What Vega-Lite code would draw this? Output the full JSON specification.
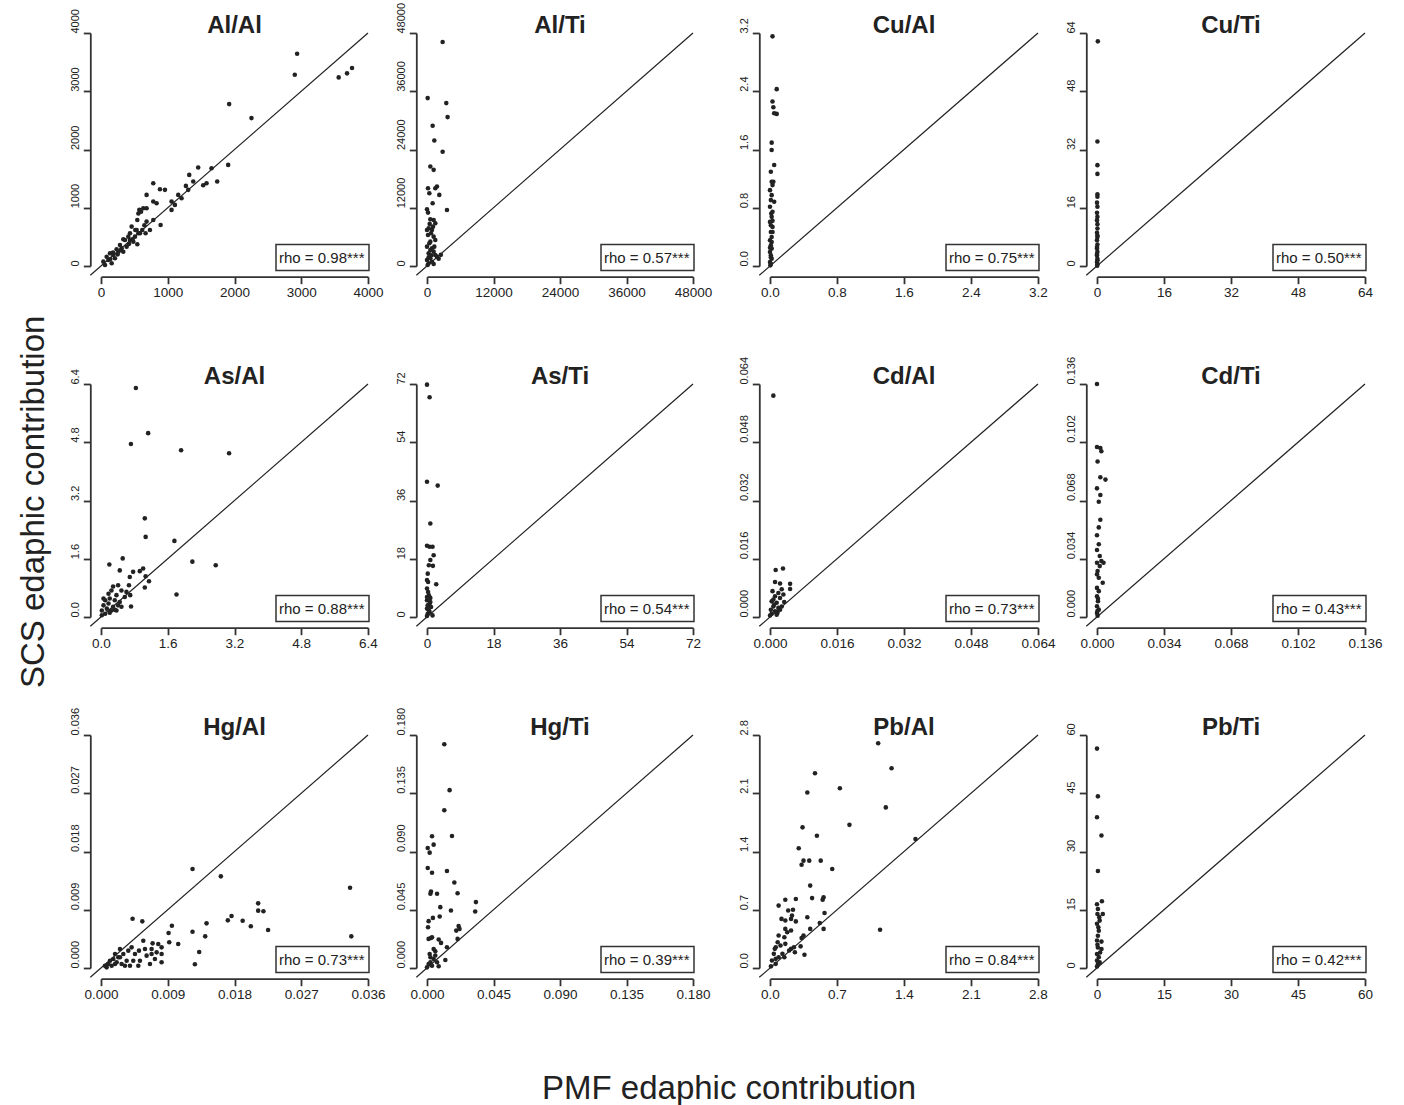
{
"$schema": "https://vega.github.io/schema/vega-lite/v6.json",
"background": "white",
"padding": {"left": 18, "top": 2, "right": 5, "bottom": 3},
"datasets": {
"meta": [
{"p":"Al/Al","rho":"rho = 0.98***"},
{"p":"Al/Ti","rho":"rho = 0.57***"},
{"p":"Cu/Al","rho":"rho = 0.75***"},
{"p":"Cu/Ti","rho":"rho = 0.50***"},
{"p":"As/Al","rho":"rho = 0.88***"},
{"p":"As/Ti","rho":"rho = 0.54***"},
{"p":"Cd/Al","rho":"rho = 0.73***"},
{"p":"Cd/Ti","rho":"rho = 0.43***"},
{"p":"Hg/Al","rho":"rho = 0.73***"},
{"p":"Hg/Ti","rho":"rho = 0.39***"},
{"p":"Pb/Al","rho":"rho = 0.84***"},
{"p":"Pb/Ti","rho":"rho = 0.42***"}
],
"pts": [
{"p":"Al/Al","x":2938,"y":3645},{"p":"Al/Al","x":2903,"y":3284},{"p":"Al/Al","x":3561,"y":3238},{"p":"Al/Al","x":3686,"y":3307},{"p":"Al/Al","x":3761,"y":3398},
{"p":"Al/Al","x":1920,"y":2779},{"p":"Al/Al","x":2254,"y":2539},{"p":"Al/Al","x":1905,"y":1736},{"p":"Al/Al","x":1456,"y":1691},{"p":"Al/Al","x":1656,"y":1679},
{"p":"Al/Al","x":1322,"y":1564},{"p":"Al/Al","x":1382,"y":1450},{"p":"Al/Al","x":1741,"y":1450},{"p":"Al/Al","x":1581,"y":1421},{"p":"Al/Al","x":1531,"y":1387},
{"p":"Al/Al","x":1272,"y":1375},{"p":"Al/Al","x":1157,"y":1221},{"p":"Al/Al","x":1207,"y":1163},{"p":"Al/Al","x":1307,"y":1307},{"p":"Al/Al","x":1057,"y":1106},
{"p":"Al/Al","x":1107,"y":1049},{"p":"Al/Al","x":1057,"y":963},{"p":"Al/Al","x":783,"y":1421},{"p":"Al/Al","x":958,"y":1307},{"p":"Al/Al","x":883,"y":1318},
{"p":"Al/Al","x":683,"y":1221},{"p":"Al/Al","x":783,"y":1106},{"p":"Al/Al","x":833,"y":1077},{"p":"Al/Al","x":574,"y":963},{"p":"Al/Al","x":633,"y":991},
{"p":"Al/Al","x":683,"y":991},{"p":"Al/Al","x":893,"y":705},{"p":"Al/Al","x":783,"y":791},{"p":"Al/Al","x":683,"y":762},{"p":"Al/Al","x":544,"y":791},
{"p":"Al/Al","x":618,"y":619},{"p":"Al/Al","x":668,"y":562},{"p":"Al/Al","x":559,"y":562},{"p":"Al/Al","x":544,"y":372},{"p":"Al/Al","x":514,"y":619},
{"p":"Al/Al","x":459,"y":676},{"p":"Al/Al","x":434,"y":562},{"p":"Al/Al","x":359,"y":447},{"p":"Al/Al","x":334,"y":458},{"p":"Al/Al","x":409,"y":504},
{"p":"Al/Al","x":309,"y":304},{"p":"Al/Al","x":234,"y":287},{"p":"Al/Al","x":184,"y":189},{"p":"Al/Al","x":135,"y":218},{"p":"Al/Al","x":85,"y":160},
{"p":"Al/Al","x":35,"y":75},{"p":"Al/Al","x":284,"y":361},{"p":"Al/Al","x":259,"y":246},{"p":"Al/Al","x":384,"y":332},{"p":"Al/Al","x":484,"y":418},
{"p":"Al/Al","x":209,"y":132},{"p":"Al/Al","x":110,"y":103},{"p":"Al/Al","x":160,"y":46},{"p":"Al/Al","x":60,"y":17},{"p":"Al/Al","x":434,"y":447},
{"p":"Al/Al","x":509,"y":504},{"p":"Al/Al","x":584,"y":562},{"p":"Al/Al","x":733,"y":619},{"p":"Al/Al","x":334,"y":246},{"p":"Al/Al","x":534,"y":619},
{"p":"Al/Al","x":250,"y":200},{"p":"Al/Al","x":300,"y":270},{"p":"Al/Al","x":180,"y":230},{"p":"Al/Al","x":140,"y":120},{"p":"Al/Al","x":420,"y":380},
{"p":"Al/Al","x":470,"y":460},{"p":"Al/Al","x":650,"y":700},{"p":"Al/Al","x":600,"y":930},{"p":"Al/Al","x":560,"y":900},

{"p":"Al/Ti","x":2820,"y":46145},{"p":"Al/Ti","x":120,"y":34590},{"p":"Al/Ti","x":3480,"y":33560},{"p":"Al/Ti","x":3720,"y":30670},{"p":"Al/Ti","x":1020,"y":28880},
{"p":"Al/Ti","x":1320,"y":25860},{"p":"Al/Ti","x":2820,"y":23520},{"p":"Al/Ti","x":600,"y":20490},{"p":"Al/Ti","x":1200,"y":19810},{"p":"Al/Ti","x":180,"y":16020},
{"p":"Al/Ti","x":1800,"y":16370},{"p":"Al/Ti","x":1500,"y":16020},{"p":"Al/Ti","x":420,"y":14990},{"p":"Al/Ti","x":2220,"y":14650},{"p":"Al/Ti","x":1020,"y":12930},
{"p":"Al/Ti","x":3600,"y":11550},{"p":"Al/Ti","x":0,"y":11690},{"p":"Al/Ti","x":180,"y":11000},{"p":"Al/Ti","x":600,"y":9630},{"p":"Al/Ti","x":1200,"y":9490},
{"p":"Al/Ti","x":480,"y":8670},{"p":"Al/Ti","x":1500,"y":8800},{"p":"Al/Ti","x":300,"y":7770},{"p":"Al/Ti","x":900,"y":7430},{"p":"Al/Ti","x":1200,"y":6050},
{"p":"Al/Ti","x":180,"y":6400},{"p":"Al/Ti","x":600,"y":5020},{"p":"Al/Ti","x":1500,"y":5360},{"p":"Al/Ti","x":0,"y":3990},{"p":"Al/Ti","x":900,"y":3650},
{"p":"Al/Ti","x":1200,"y":2960},{"p":"Al/Ti","x":300,"y":2610},{"p":"Al/Ti","x":1500,"y":2270},{"p":"Al/Ti","x":1800,"y":1930},{"p":"Al/Ti","x":600,"y":1580},
{"p":"Al/Ti","x":0,"y":1240},{"p":"Al/Ti","x":900,"y":890},{"p":"Al/Ti","x":300,"y":550},{"p":"Al/Ti","x":1200,"y":410},{"p":"Al/Ti","x":120,"y":210},
{"p":"Al/Ti","x":600,"y":3300},{"p":"Al/Ti","x":420,"y":4680},{"p":"Al/Ti","x":720,"y":6740},{"p":"Al/Ti","x":1080,"y":8110},{"p":"Al/Ti","x":0,"y":7430},
{"p":"Al/Ti","x":1320,"y":3990},{"p":"Al/Ti","x":2100,"y":1500},{"p":"Al/Ti","x":2500,"y":2300},{"p":"Al/Ti","x":300,"y":1800},{"p":"Al/Ti","x":800,"y":2200},

{"p":"Cu/Al","x":0.03,"y":3.154},{"p":"Cu/Al","x":0.08,"y":2.429},{"p":"Cu/Al","x":0.03,"y":2.259},{"p":"Cu/Al","x":0.04,"y":2.181},{"p":"Cu/Al","x":0.05,"y":2.098},
{"p":"Cu/Al","x":0.08,"y":2.089},{"p":"Cu/Al","x":0.02,"y":1.694},{"p":"Cu/Al","x":0.02,"y":1.593},{"p":"Cu/Al","x":0.05,"y":1.387},{"p":"Cu/Al","x":0.01,"y":1.295},
{"p":"Cu/Al","x":0.02,"y":1.157},{"p":"Cu/Al","x":0.03,"y":1.111},{"p":"Cu/Al","x":0.0,"y":1.042},{"p":"Cu/Al","x":0.02,"y":0.973},{"p":"Cu/Al","x":0.01,"y":0.905},
{"p":"Cu/Al","x":0.05,"y":0.882},{"p":"Cu/Al","x":0.0,"y":0.813},{"p":"Cu/Al","x":0.03,"y":0.744},{"p":"Cu/Al","x":0.02,"y":0.675},{"p":"Cu/Al","x":0.0,"y":0.606},
{"p":"Cu/Al","x":0.03,"y":0.537},{"p":"Cu/Al","x":0.01,"y":0.468},{"p":"Cu/Al","x":0.02,"y":0.399},{"p":"Cu/Al","x":0.0,"y":0.354},{"p":"Cu/Al","x":0.01,"y":0.285},
{"p":"Cu/Al","x":0.02,"y":0.239},{"p":"Cu/Al","x":0.0,"y":0.193},{"p":"Cu/Al","x":0.01,"y":0.147},{"p":"Cu/Al","x":0.02,"y":0.101},{"p":"Cu/Al","x":0.0,"y":0.055},
{"p":"Cu/Al","x":0.01,"y":0.032},{"p":"Cu/Al","x":0.004,"y":0.009},{"p":"Cu/Al","x":0.03,"y":0.468},{"p":"Cu/Al","x":0.015,"y":0.72},{"p":"Cu/Al","x":0.04,"y":1.157},
{"p":"Cu/Al","x":0.01,"y":0.56},{"p":"Cu/Al","x":0.02,"y":0.33},{"p":"Cu/Al","x":0.0,"y":0.25},{"p":"Cu/Al","x":0.01,"y":0.12},{"p":"Cu/Al","x":0.03,"y":0.62},

{"p":"Cu/Ti","x":0.2,"y":61.7},{"p":"Cu/Ti","x":0.1,"y":34.2},{"p":"Cu/Ti","x":0.1,"y":27.7},{"p":"Cu/Ti","x":0.1,"y":25.3},{"p":"Cu/Ti","x":0.1,"y":19.7},
{"p":"Cu/Ti","x":0.1,"y":19.0},{"p":"Cu/Ti","x":0.0,"y":17.4},{"p":"Cu/Ti","x":0.1,"y":16.3},{"p":"Cu/Ti","x":0.0,"y":14.6},{"p":"Cu/Ti","x":0.1,"y":13.5},
{"p":"Cu/Ti","x":0.0,"y":12.6},{"p":"Cu/Ti","x":0.1,"y":11.5},{"p":"Cu/Ti","x":0.1,"y":10.3},{"p":"Cu/Ti","x":0.0,"y":9.1},{"p":"Cu/Ti","x":0.1,"y":8.0},
{"p":"Cu/Ti","x":0.0,"y":7.1},{"p":"Cu/Ti","x":0.1,"y":5.9},{"p":"Cu/Ti","x":0.0,"y":4.8},{"p":"Cu/Ti","x":0.1,"y":3.9},{"p":"Cu/Ti","x":0.0,"y":2.9},
{"p":"Cu/Ti","x":0.1,"y":2.0},{"p":"Cu/Ti","x":0.0,"y":1.1},{"p":"Cu/Ti","x":0.1,"y":0.5},{"p":"Cu/Ti","x":0.05,"y":0.1},{"p":"Cu/Ti","x":0.0,"y":5.2},
{"p":"Cu/Ti","x":0.1,"y":8.4},{"p":"Cu/Ti","x":0.0,"y":3.3},{"p":"Cu/Ti","x":0.1,"y":1.6},

{"p":"As/Al","x":0.836,"y":6.29},{"p":"As/Al","x":0.717,"y":4.75},{"p":"As/Al","x":1.13,"y":5.05},{"p":"As/Al","x":1.92,"y":4.58},{"p":"As/Al","x":3.07,"y":4.5},
{"p":"As/Al","x":1.05,"y":2.71},{"p":"As/Al","x":1.07,"y":2.2},{"p":"As/Al","x":1.76,"y":2.09},{"p":"As/Al","x":2.19,"y":1.52},{"p":"As/Al","x":2.75,"y":1.42},
{"p":"As/Al","x":0.2,"y":1.44},{"p":"As/Al","x":0.52,"y":1.61},{"p":"As/Al","x":0.45,"y":1.28},{"p":"As/Al","x":0.77,"y":1.24},{"p":"As/Al","x":0.93,"y":1.26},
{"p":"As/Al","x":1.01,"y":1.33},{"p":"As/Al","x":1.07,"y":1.12},{"p":"As/Al","x":1.15,"y":0.98},{"p":"As/Al","x":0.69,"y":1.1},{"p":"As/Al","x":0.67,"y":0.87},
{"p":"As/Al","x":1.05,"y":0.81},{"p":"As/Al","x":0.7,"y":0.6},{"p":"As/Al","x":1.81,"y":0.62},{"p":"As/Al","x":0.72,"y":0.29},{"p":"As/Al","x":0.29,"y":0.84},
{"p":"As/Al","x":0.41,"y":0.87},{"p":"As/Al","x":0.25,"y":0.73},{"p":"As/Al","x":0.49,"y":0.73},{"p":"As/Al","x":0.18,"y":0.64},{"p":"As/Al","x":0.37,"y":0.6},
{"p":"As/Al","x":0.61,"y":0.69},{"p":"As/Al","x":0.1,"y":0.46},{"p":"As/Al","x":0.21,"y":0.51},{"p":"As/Al","x":0.33,"y":0.46},{"p":"As/Al","x":0.45,"y":0.41},
{"p":"As/Al","x":0.06,"y":0.32},{"p":"As/Al","x":0.18,"y":0.37},{"p":"As/Al","x":0.29,"y":0.28},{"p":"As/Al","x":0.41,"y":0.32},{"p":"As/Al","x":0.02,"y":0.18},
{"p":"As/Al","x":0.14,"y":0.23},{"p":"As/Al","x":0.25,"y":0.18},{"p":"As/Al","x":0.1,"y":0.09},{"p":"As/Al","x":0.02,"y":0.05},{"p":"As/Al","x":0.21,"y":0.12},
{"p":"As/Al","x":0.49,"y":0.28},{"p":"As/Al","x":0.37,"y":0.18},{"p":"As/Al","x":0.06,"y":0.51},{"p":"As/Al","x":0.57,"y":0.55},{"p":"As/Al","x":0.33,"y":0.2},

{"p":"As/Ti","x":0,"y":71.8},{"p":"As/Ti","x":0.7,"y":67.9},{"p":"As/Ti","x":0,"y":41.8},{"p":"As/Ti","x":2.9,"y":40.6},{"p":"As/Ti","x":0.9,"y":28.9},
{"p":"As/Ti","x":0,"y":22.0},{"p":"As/Ti","x":0.7,"y":21.7},{"p":"As/Ti","x":1.5,"y":21.7},{"p":"As/Ti","x":1.8,"y":19.1},{"p":"As/Ti","x":0.9,"y":17.6},
{"p":"As/Ti","x":0.5,"y":16.0},{"p":"As/Ti","x":1.6,"y":15.8},{"p":"As/Ti","x":0.2,"y":13.4},{"p":"As/Ti","x":2.5,"y":10.1},{"p":"As/Ti","x":0,"y":11.4},
{"p":"As/Ti","x":0.3,"y":10.8},{"p":"As/Ti","x":0,"y":8.8},{"p":"As/Ti","x":0.5,"y":6.7},{"p":"As/Ti","x":0.9,"y":5.9},{"p":"As/Ti","x":0,"y":5.2},
{"p":"As/Ti","x":0.7,"y":4.1},{"p":"As/Ti","x":0.2,"y":3.6},{"p":"As/Ti","x":1.1,"y":3.1},{"p":"As/Ti","x":0,"y":2.6},{"p":"As/Ti","x":0.5,"y":2.1},
{"p":"As/Ti","x":1.5,"y":0.5},{"p":"As/Ti","x":0.2,"y":1.0},{"p":"As/Ti","x":0,"y":0.3},{"p":"As/Ti","x":0.7,"y":1.5},{"p":"As/Ti","x":0.9,"y":4.6},
{"p":"As/Ti","x":0,"y":6.2},{"p":"As/Ti","x":0.3,"y":7.7},

{"p":"Cd/Al","x":0.0008,"y":0.0608},{"p":"Cd/Al","x":0.00135,"y":0.0129},{"p":"Cd/Al","x":0.0031,"y":0.0133},{"p":"Cd/Al","x":0.0012,"y":0.0096},{"p":"Cd/Al","x":0.0024,"y":0.0092},
{"p":"Cd/Al","x":0.0048,"y":0.0091},{"p":"Cd/Al","x":0.0048,"y":0.0077},{"p":"Cd/Al","x":0.0028,"y":0.0076},{"p":"Cd/Al","x":0.0006,"y":0.0071},{"p":"Cd/Al","x":0.002,"y":0.0066},
{"p":"Cd/Al","x":0.0032,"y":0.0062},{"p":"Cd/Al","x":0.0012,"y":0.0057},{"p":"Cd/Al","x":0.0024,"y":0.0052},{"p":"Cd/Al","x":0.0034,"y":0.0041},{"p":"Cd/Al","x":0.0004,"y":0.0043},
{"p":"Cd/Al","x":0.0016,"y":0.0039},{"p":"Cd/Al","x":0.0008,"y":0.0029},{"p":"Cd/Al","x":0.002,"y":0.0025},{"p":"Cd/Al","x":0.0002,"y":0.002},{"p":"Cd/Al","x":0.0012,"y":0.0016},
{"p":"Cd/Al","x":0.0004,"y":0.0009},{"p":"Cd/Al","x":0.0016,"y":0.0006},{"p":"Cd/Al","x":0,"y":0.0004},{"p":"Cd/Al","x":0.0024,"y":0.002},{"p":"Cd/Al","x":0.0008,"y":0.0048},
{"p":"Cd/Al","x":0.0028,"y":0.0029},{"p":"Cd/Al","x":0.001,"y":0.0034},{"p":"Cd/Al","x":0.0018,"y":0.0012},

{"p":"Cd/Ti","x":0,"y":0.136},{"p":"Cd/Ti","x":0,"y":0.0992},{"p":"Cd/Ti","x":0.0017,"y":0.0986},{"p":"Cd/Ti","x":0.0022,"y":0.0967},{"p":"Cd/Ti","x":0.0003,"y":0.0908},
{"p":"Cd/Ti","x":0.0017,"y":0.0816},{"p":"Cd/Ti","x":0.0043,"y":0.0802},{"p":"Cd/Ti","x":0,"y":0.0751},{"p":"Cd/Ti","x":0.0017,"y":0.0712},{"p":"Cd/Ti","x":0.0009,"y":0.0673},
{"p":"Cd/Ti","x":0.0017,"y":0.0568},{"p":"Cd/Ti","x":0.0009,"y":0.0523},{"p":"Cd/Ti","x":0,"y":0.0477},{"p":"Cd/Ti","x":0.0009,"y":0.0425},{"p":"Cd/Ti","x":0,"y":0.0391},
{"p":"Cd/Ti","x":0.0022,"y":0.0327},{"p":"Cd/Ti","x":0.0033,"y":0.0317},{"p":"Cd/Ti","x":0,"y":0.0317},{"p":"Cd/Ti","x":0.0014,"y":0.0297},{"p":"Cd/Ti","x":0,"y":0.0249},
{"p":"Cd/Ti","x":0.0009,"y":0.0229},{"p":"Cd/Ti","x":0.0029,"y":0.02},{"p":"Cd/Ti","x":0,"y":0.017},{"p":"Cd/Ti","x":0.0009,"y":0.0151},{"p":"Cd/Ti","x":0,"y":0.0121},
{"p":"Cd/Ti","x":0.0005,"y":0.0092},{"p":"Cd/Ti","x":0,"y":0.0063},{"p":"Cd/Ti","x":0.0009,"y":0.0043},{"p":"Cd/Ti","x":0,"y":0.0023},{"p":"Cd/Ti","x":0.0003,"y":0.0008},
{"p":"Cd/Ti","x":0.0014,"y":0.0356},{"p":"Cd/Ti","x":0.0003,"y":0.0268},{"p":"Cd/Ti","x":0.0005,"y":0.0106},{"p":"Cd/Ti","x":0.0002,"y":0.0035},

{"p":"Hg/Al","x":0.01234,"y":0.0153},{"p":"Hg/Al","x":0.01616,"y":0.01416},{"p":"Hg/Al","x":0.03358,"y":0.01241},{"p":"Hg/Al","x":0.03375,"y":0.00489},{"p":"Hg/Al","x":0.02119,"y":0.00999},
{"p":"Hg/Al","x":0.02119,"y":0.00886},{"p":"Hg/Al","x":0.0219,"y":0.00876},{"p":"Hg/Al","x":0.0176,"y":0.00803},{"p":"Hg/Al","x":0.0171,"y":0.00736},{"p":"Hg/Al","x":0.0191,"y":0.00731},
{"p":"Hg/Al","x":0.0202,"y":0.00644},{"p":"Hg/Al","x":0.02253,"y":0.00587},{"p":"Hg/Al","x":0.01423,"y":0.0069},{"p":"Hg/Al","x":0.01234,"y":0.00561},{"p":"Hg/Al","x":0.01405,"y":0.00489},
{"p":"Hg/Al","x":0.00956,"y":0.00654},{"p":"Hg/Al","x":0.00911,"y":0.00541},{"p":"Hg/Al","x":0.0092,"y":0.00397},{"p":"Hg/Al","x":0.01041,"y":0.00371},{"p":"Hg/Al","x":0.01324,"y":0.00247},
{"p":"Hg/Al","x":0.01266,"y":0.00057},{"p":"Hg/Al","x":0.00426,"y":0.00762},{"p":"Hg/Al","x":0.00557,"y":0.00721},{"p":"Hg/Al","x":0.0057,"y":0.00422},{"p":"Hg/Al","x":0.00696,"y":0.00381},
{"p":"Hg/Al","x":0.00772,"y":0.00371},{"p":"Hg/Al","x":0.00817,"y":0.00319},{"p":"Hg/Al","x":0.00817,"y":0.00216},{"p":"Hg/Al","x":0.00817,"y":0.00088},{"p":"Hg/Al","x":0.00727,"y":0.00139},
{"p":"Hg/Al","x":0.0066,"y":0.00062},{"p":"Hg/Al","x":0.00682,"y":0.00216},{"p":"Hg/Al","x":0.00593,"y":0.00294},{"p":"Hg/Al","x":0.00615,"y":0.00191},{"p":"Hg/Al","x":0.00525,"y":0.00113},
{"p":"Hg/Al","x":0.00503,"y":0.00036},{"p":"Hg/Al","x":0.00512,"y":0.00268},{"p":"Hg/Al","x":0.00458,"y":0.00216},{"p":"Hg/Al","x":0.00413,"y":0.00319},{"p":"Hg/Al","x":0.00368,"y":0.00268},
{"p":"Hg/Al","x":0.00346,"y":0.00113},{"p":"Hg/Al","x":0.00301,"y":0.00216},{"p":"Hg/Al","x":0.00256,"y":0.00294},{"p":"Hg/Al","x":0.00278,"y":0.00062},{"p":"Hg/Al","x":0.00233,"y":0.00165},
{"p":"Hg/Al","x":0.00211,"y":0.00088},{"p":"Hg/Al","x":0.00166,"y":0.00139},{"p":"Hg/Al","x":0.00144,"y":0.00036},{"p":"Hg/Al","x":0.00099,"y":0.00062},{"p":"Hg/Al","x":0.00076,"y":0.0001},
{"p":"Hg/Al","x":0.00054,"y":0.00036},{"p":"Hg/Al","x":0.00121,"y":0.00113},{"p":"Hg/Al","x":0.00189,"y":0.00062},{"p":"Hg/Al","x":0.00323,"y":0.00036},{"p":"Hg/Al","x":0.00391,"y":0.00036},
{"p":"Hg/Al","x":0.00435,"y":0.00113},{"p":"Hg/Al","x":0.00256,"y":0.00165},{"p":"Hg/Al","x":0.00189,"y":0.00216},{"p":"Hg/Al","x":0.00682,"y":0.00294},{"p":"Hg/Al","x":0.0075,"y":0.00242},

{"p":"Hg/Ti","x":0.0117,"y":0.1728},{"p":"Hg/Ti","x":0.0153,"y":0.1374},{"p":"Hg/Ti","x":0.0117,"y":0.1219},{"p":"Hg/Ti","x":0.0169,"y":0.102},{"p":"Hg/Ti","x":0.0034,"y":0.1018},
{"p":"Hg/Ti","x":0.0045,"y":0.0953},{"p":"Hg/Ti","x":0.0005,"y":0.0927},{"p":"Hg/Ti","x":0.0018,"y":0.0891},{"p":"Hg/Ti","x":0.0005,"y":0.0772},{"p":"Hg/Ti","x":0.0034,"y":0.0736},
{"p":"Hg/Ti","x":0.0135,"y":0.0749},{"p":"Hg/Ti","x":0.0185,"y":0.0661},{"p":"Hg/Ti","x":0.0027,"y":0.0591},{"p":"Hg/Ti","x":0.0023,"y":0.0573},{"p":"Hg/Ti","x":0.0068,"y":0.0573},
{"p":"Hg/Ti","x":0.0207,"y":0.0578},{"p":"Hg/Ti","x":0.009,"y":0.047},{"p":"Hg/Ti","x":0.0331,"y":0.0509},{"p":"Hg/Ti","x":0.0162,"y":0.0444},{"p":"Hg/Ti","x":0.0326,"y":0.0436},
{"p":"Hg/Ti","x":0.0086,"y":0.0398},{"p":"Hg/Ti","x":0.004,"y":0.0387},{"p":"Hg/Ti","x":0.0011,"y":0.0362},{"p":"Hg/Ti","x":0.0007,"y":0.0315},{"p":"Hg/Ti","x":0.0214,"y":0.0325},
{"p":"Hg/Ti","x":0.0198,"y":0.0289},{"p":"Hg/Ti","x":0.022,"y":0.0302},{"p":"Hg/Ti","x":0.0207,"y":0.0225},{"p":"Hg/Ti","x":0.0011,"y":0.0225},{"p":"Hg/Ti","x":0.0027,"y":0.0232},
{"p":"Hg/Ti","x":0.0034,"y":0.0238},{"p":"Hg/Ti","x":0.0079,"y":0.022},{"p":"Hg/Ti","x":0.0095,"y":0.0194},{"p":"Hg/Ti","x":0.0135,"y":0.016},{"p":"Hg/Ti","x":0.0045,"y":0.0147},
{"p":"Hg/Ti","x":0.0018,"y":0.0108},{"p":"Hg/Ti","x":0.0056,"y":0.0129},{"p":"Hg/Ti","x":0.0124,"y":0.0062},{"p":"Hg/Ti","x":0.0023,"y":0.0083},{"p":"Hg/Ti","x":0.0045,"y":0.007},
{"p":"Hg/Ti","x":0.0068,"y":0.0044},{"p":"Hg/Ti","x":0.0011,"y":0.0031},{"p":"Hg/Ti","x":0.0034,"y":0.0018},{"p":"Hg/Ti","x":0.0079,"y":0.0013},{"p":"Hg/Ti","x":0,"y":0.0005},
{"p":"Hg/Ti","x":0.0023,"y":0.0044},{"p":"Hg/Ti","x":0.0056,"y":0.0096},

{"p":"Pb/Al","x":1.13,"y":2.7},{"p":"Pb/Al","x":1.27,"y":2.4},{"p":"Pb/Al","x":0.47,"y":2.34},{"p":"Pb/Al","x":0.39,"y":2.11},{"p":"Pb/Al","x":0.73,"y":2.16},
{"p":"Pb/Al","x":1.21,"y":1.93},{"p":"Pb/Al","x":0.83,"y":1.72},{"p":"Pb/Al","x":0.34,"y":1.69},{"p":"Pb/Al","x":0.49,"y":1.59},{"p":"Pb/Al","x":1.52,"y":1.55},
{"p":"Pb/Al","x":0.3,"y":1.44},{"p":"Pb/Al","x":0.33,"y":1.24},{"p":"Pb/Al","x":0.35,"y":1.29},{"p":"Pb/Al","x":0.41,"y":1.29},{"p":"Pb/Al","x":0.53,"y":1.29},
{"p":"Pb/Al","x":0.65,"y":1.19},{"p":"Pb/Al","x":0.42,"y":0.99},{"p":"Pb/Al","x":0.44,"y":0.84},{"p":"Pb/Al","x":0.56,"y":0.85},{"p":"Pb/Al","x":0.55,"y":0.82},
{"p":"Pb/Al","x":0.27,"y":0.83},{"p":"Pb/Al","x":0.16,"y":0.82},{"p":"Pb/Al","x":0.09,"y":0.75},{"p":"Pb/Al","x":0.19,"y":0.69},{"p":"Pb/Al","x":0.24,"y":0.7},
{"p":"Pb/Al","x":0.39,"y":0.61},{"p":"Pb/Al","x":0.57,"y":0.66},{"p":"Pb/Al","x":0.52,"y":0.54},{"p":"Pb/Al","x":0.56,"y":0.47},{"p":"Pb/Al","x":1.15,"y":0.46},
{"p":"Pb/Al","x":0.42,"y":0.47},{"p":"Pb/Al","x":0.35,"y":0.39},{"p":"Pb/Al","x":0.33,"y":0.36},{"p":"Pb/Al","x":0.32,"y":0.26},{"p":"Pb/Al","x":0.26,"y":0.19},
{"p":"Pb/Al","x":0.36,"y":0.16},{"p":"Pb/Al","x":0.12,"y":0.59},{"p":"Pb/Al","x":0.16,"y":0.57},{"p":"Pb/Al","x":0.22,"y":0.59},{"p":"Pb/Al","x":0.27,"y":0.56},
{"p":"Pb/Al","x":0.23,"y":0.63},{"p":"Pb/Al","x":0.18,"y":0.43},{"p":"Pb/Al","x":0.22,"y":0.45},{"p":"Pb/Al","x":0.15,"y":0.37},{"p":"Pb/Al","x":0.09,"y":0.39},
{"p":"Pb/Al","x":0.06,"y":0.25},{"p":"Pb/Al","x":0.11,"y":0.27},{"p":"Pb/Al","x":0.16,"y":0.29},{"p":"Pb/Al","x":0.22,"y":0.23},{"p":"Pb/Al","x":0.04,"y":0.17},
{"p":"Pb/Al","x":0.09,"y":0.13},{"p":"Pb/Al","x":0.13,"y":0.17},{"p":"Pb/Al","x":0.02,"y":0.09},{"p":"Pb/Al","x":0.06,"y":0.05},{"p":"Pb/Al","x":0.01,"y":0.02},
{"p":"Pb/Al","x":0.15,"y":0.13},{"p":"Pb/Al","x":0.2,"y":0.21},{"p":"Pb/Al","x":0.08,"y":0.31},{"p":"Pb/Al","x":0.05,"y":0.23},{"p":"Pb/Al","x":0.25,"y":0.25},
{"p":"Pb/Al","x":0.16,"y":0.47},{"p":"Pb/Al","x":0.06,"y":0.11},

{"p":"Pb/Ti","x":0,"y":56.5},{"p":"Pb/Ti","x":0.2,"y":44.2},{"p":"Pb/Ti","x":0,"y":38.8},{"p":"Pb/Ti","x":1.0,"y":34.1},{"p":"Pb/Ti","x":0.2,"y":25.0},
{"p":"Pb/Ti","x":1.1,"y":17.2},{"p":"Pb/Ti","x":0,"y":16.4},{"p":"Pb/Ti","x":1.3,"y":13.9},{"p":"Pb/Ti","x":0.2,"y":15.2},{"p":"Pb/Ti","x":0.6,"y":12.2},
{"p":"Pb/Ti","x":0,"y":11.4},{"p":"Pb/Ti","x":0.4,"y":9.6},{"p":"Pb/Ti","x":1.0,"y":6.8},{"p":"Pb/Ti","x":0,"y":7.1},{"p":"Pb/Ti","x":1.0,"y":4.9},
{"p":"Pb/Ti","x":0.2,"y":5.3},{"p":"Pb/Ti","x":0,"y":3.6},{"p":"Pb/Ti","x":0.4,"y":2.8},{"p":"Pb/Ti","x":0,"y":1.9},{"p":"Pb/Ti","x":0.2,"y":1.0},
{"p":"Pb/Ti","x":0,"y":0.4},{"p":"Pb/Ti","x":0.6,"y":1.5},{"p":"Pb/Ti","x":0.2,"y":8.3},{"p":"Pb/Ti","x":0.5,"y":13.1},{"p":"Pb/Ti","x":0.1,"y":13.9},
{"p":"Pb/Ti","x":0.7,"y":4.0},{"p":"Pb/Ti","x":0.3,"y":10.5},{"p":"Pb/Ti","x":0.1,"y":6.0}
]
},
"title": {"text": "PMF edaphic contribution", "orient": "bottom", "anchor": "middle", "fontSize": 33, "font": "Liberation Sans", "fontWeight": "normal", "color": "#222", "offset": 72, "dx": 29},
"vconcat": [
{
"title": {"text": "SCS edaphic contribution", "orient": "left", "anchor": "middle", "fontSize": 33, "font": "Liberation Sans", "fontWeight": "normal", "color": "#222", "offset": 18},
"columns": 4,
"spacing": {"row": 118, "column": 59},
"bounds": "flush",
"concat": [
{"width": 267, "height": 233, "layer": [
 {"data": {"name": "meta"}, "transform": [{"filter": "datum.p === 'Al/Al'"}], "mark": {"type": "rule", "color": "#222", "strokeWidth": 1.2, "clip": false}, "encoding": {"x": {"datum": -160, "type": "quantitative"}, "y": {"datum": -160, "type": "quantitative"}, "x2": {"datum": 4000}, "y2": {"datum": 4000}}},
 {"data": {"name": "pts"}, "transform": [{"filter": "datum.p === 'Al/Al'"}], "mark": {"type": "circle", "size": 21, "color": "#222", "opacity": 1, "clip": false}, "encoding": {
   "x": {"field": "x", "type": "quantitative", "scale": {"domain": [0, 4000], "nice": false, "zero": false}, "axis": {"values": [0, 1000, 2000, 3000, 4000], "format": "d", "offset": 10.7, "title": null}},
   "y": {"field": "y", "type": "quantitative", "scale": {"domain": [0, 4000], "nice": false, "zero": false}, "axis": {"values": [0, 1000, 2000, 3000, 4000], "format": "d", "offset": 10.7, "title": null}}}},
 {"data": {"name": "meta"}, "transform": [{"filter": "datum.p === 'Al/Al'"}], "mark": {"type": "point", "shape": "M-92,-21.5H1V4.5H-92Z", "size": 4, "filled": true, "fill": "white", "stroke": "#333", "strokeWidth": 1.5, "opacity": 1, "clip": false}, "encoding": {"x": {"datum": 4000}, "y": {"datum": 0}}},
 {"data": {"name": "meta"}, "transform": [{"filter": "datum.p === 'Al/Al'"}], "mark": {"type": "text", "align": "left", "baseline": "middle", "dx": -89, "dy": -8, "fontSize": 15, "font": "Liberation Sans", "color": "#222"}, "encoding": {"x": {"datum": 4000}, "y": {"datum": 0}, "text": {"field": "rho"}}},
 {"data": {"name": "meta"}, "transform": [{"filter": "datum.p === 'Al/Al'"}], "mark": {"type": "text", "align": "center", "baseline": "alphabetic", "fontSize": 24, "fontWeight": "bold", "font": "Liberation Sans", "color": "#222"}, "encoding": {"x": {"datum": 2000}, "y": {"datum": 4000}, "text": {"field": "p"}}}
]},
{"width": 284, "height": 233, "layer": [
 {"data": {"name": "meta"}, "transform": [{"filter": "datum.p === 'Al/Ti'"}], "mark": {"type": "rule", "color": "#222", "strokeWidth": 1.2, "clip": false}, "encoding": {"x": {"datum": -1920, "type": "quantitative"}, "y": {"datum": -1920, "type": "quantitative"}, "x2": {"datum": 48000}, "y2": {"datum": 48000}}},
 {"data": {"name": "pts"}, "transform": [{"filter": "datum.p === 'Al/Ti'"}], "mark": {"type": "circle", "size": 21, "color": "#222", "opacity": 1, "clip": false}, "encoding": {
   "x": {"field": "x", "type": "quantitative", "scale": {"domain": [0, 48000], "nice": false, "zero": false, "range": [0, 266]}, "axis": {"values": [0, 12000, 24000, 36000, 48000], "format": "d", "offset": 10.7, "title": null}},
   "y": {"field": "y", "type": "quantitative", "scale": {"domain": [0, 48000], "nice": false, "zero": false}, "axis": {"values": [0, 12000, 24000, 36000, 48000], "format": "d", "offset": 10.7, "title": null}}}},
 {"data": {"name": "meta"}, "transform": [{"filter": "datum.p === 'Al/Ti'"}], "mark": {"type": "point", "shape": "M-92,-21.5H1V4.5H-92Z", "size": 4, "filled": true, "fill": "white", "stroke": "#333", "strokeWidth": 1.5, "opacity": 1, "clip": false}, "encoding": {"x": {"datum": 48000}, "y": {"datum": 0}}},
 {"data": {"name": "meta"}, "transform": [{"filter": "datum.p === 'Al/Ti'"}], "mark": {"type": "text", "align": "left", "baseline": "middle", "dx": -89, "dy": -8, "fontSize": 15, "font": "Liberation Sans", "color": "#222"}, "encoding": {"x": {"datum": 48000}, "y": {"datum": 0}, "text": {"field": "rho"}}},
 {"data": {"name": "meta"}, "transform": [{"filter": "datum.p === 'Al/Ti'"}], "mark": {"type": "text", "align": "center", "baseline": "alphabetic", "fontSize": 24, "fontWeight": "bold", "font": "Liberation Sans", "color": "#222"}, "encoding": {"x": {"datum": 24000}, "y": {"datum": 48000}, "text": {"field": "p"}}}
]},
{"width": 268, "height": 233, "layer": [
 {"data": {"name": "meta"}, "transform": [{"filter": "datum.p === 'Cu/Al'"}], "mark": {"type": "rule", "color": "#222", "strokeWidth": 1.2, "clip": false}, "encoding": {"x": {"datum": -0.128, "type": "quantitative"}, "y": {"datum": -0.128, "type": "quantitative"}, "x2": {"datum": 3.2}, "y2": {"datum": 3.2}}},
 {"data": {"name": "pts"}, "transform": [{"filter": "datum.p === 'Cu/Al'"}], "mark": {"type": "circle", "size": 21, "color": "#222", "opacity": 1, "clip": false}, "encoding": {
   "x": {"field": "x", "type": "quantitative", "scale": {"domain": [0, 3.2], "nice": false, "zero": false}, "axis": {"values": [0, 0.8, 1.6, 2.4, 3.2], "format": ".1f", "offset": 10.7, "title": null}},
   "y": {"field": "y", "type": "quantitative", "scale": {"domain": [0, 3.2], "nice": false, "zero": false}, "axis": {"values": [0, 0.8, 1.6, 2.4, 3.2], "format": ".1f", "offset": 10.7, "title": null}}}},
 {"data": {"name": "meta"}, "transform": [{"filter": "datum.p === 'Cu/Al'"}], "mark": {"type": "point", "shape": "M-92,-21.5H1V4.5H-92Z", "size": 4, "filled": true, "fill": "white", "stroke": "#333", "strokeWidth": 1.5, "opacity": 1, "clip": false}, "encoding": {"x": {"datum": 3.2}, "y": {"datum": 0}}},
 {"data": {"name": "meta"}, "transform": [{"filter": "datum.p === 'Cu/Al'"}], "mark": {"type": "text", "align": "left", "baseline": "middle", "dx": -89, "dy": -8, "fontSize": 15, "font": "Liberation Sans", "color": "#222"}, "encoding": {"x": {"datum": 3.2}, "y": {"datum": 0}, "text": {"field": "rho"}}},
 {"data": {"name": "meta"}, "transform": [{"filter": "datum.p === 'Cu/Al'"}], "mark": {"type": "text", "align": "center", "baseline": "alphabetic", "fontSize": 24, "fontWeight": "bold", "font": "Liberation Sans", "color": "#222"}, "encoding": {"x": {"datum": 1.6}, "y": {"datum": 3.2}, "text": {"field": "p"}}}
]},
{"width": 268, "height": 233, "layer": [
 {"data": {"name": "meta"}, "transform": [{"filter": "datum.p === 'Cu/Ti'"}], "mark": {"type": "rule", "color": "#222", "strokeWidth": 1.2, "clip": false}, "encoding": {"x": {"datum": -2.56, "type": "quantitative"}, "y": {"datum": -2.56, "type": "quantitative"}, "x2": {"datum": 64}, "y2": {"datum": 64}}},
 {"data": {"name": "pts"}, "transform": [{"filter": "datum.p === 'Cu/Ti'"}], "mark": {"type": "circle", "size": 21, "color": "#222", "opacity": 1, "clip": false}, "encoding": {
   "x": {"field": "x", "type": "quantitative", "scale": {"domain": [0, 64], "nice": false, "zero": false}, "axis": {"values": [0, 16, 32, 48, 64], "format": "d", "offset": 10.7, "title": null}},
   "y": {"field": "y", "type": "quantitative", "scale": {"domain": [0, 64], "nice": false, "zero": false}, "axis": {"values": [0, 16, 32, 48, 64], "format": "d", "offset": 10.7, "title": null}}}},
 {"data": {"name": "meta"}, "transform": [{"filter": "datum.p === 'Cu/Ti'"}], "mark": {"type": "point", "shape": "M-92,-21.5H1V4.5H-92Z", "size": 4, "filled": true, "fill": "white", "stroke": "#333", "strokeWidth": 1.5, "opacity": 1, "clip": false}, "encoding": {"x": {"datum": 64}, "y": {"datum": 0}}},
 {"data": {"name": "meta"}, "transform": [{"filter": "datum.p === 'Cu/Ti'"}], "mark": {"type": "text", "align": "left", "baseline": "middle", "dx": -89, "dy": -8, "fontSize": 15, "font": "Liberation Sans", "color": "#222"}, "encoding": {"x": {"datum": 64}, "y": {"datum": 0}, "text": {"field": "rho"}}},
 {"data": {"name": "meta"}, "transform": [{"filter": "datum.p === 'Cu/Ti'"}], "mark": {"type": "text", "align": "center", "baseline": "alphabetic", "fontSize": 24, "fontWeight": "bold", "font": "Liberation Sans", "color": "#222"}, "encoding": {"x": {"datum": 32}, "y": {"datum": 64}, "text": {"field": "p"}}}
]},
{"width": 267, "height": 233, "layer": [
 {"data": {"name": "meta"}, "transform": [{"filter": "datum.p === 'As/Al'"}], "mark": {"type": "rule", "color": "#222", "strokeWidth": 1.2, "clip": false}, "encoding": {"x": {"datum": -0.256, "type": "quantitative"}, "y": {"datum": -0.256, "type": "quantitative"}, "x2": {"datum": 6.4}, "y2": {"datum": 6.4}}},
 {"data": {"name": "pts"}, "transform": [{"filter": "datum.p === 'As/Al'"}], "mark": {"type": "circle", "size": 21, "color": "#222", "opacity": 1, "clip": false}, "encoding": {
   "x": {"field": "x", "type": "quantitative", "scale": {"domain": [0, 6.4], "nice": false, "zero": false}, "axis": {"values": [0, 1.6, 3.2, 4.8, 6.4], "format": ".1f", "offset": 10.7, "title": null}},
   "y": {"field": "y", "type": "quantitative", "scale": {"domain": [0, 6.4], "nice": false, "zero": false}, "axis": {"values": [0, 1.6, 3.2, 4.8, 6.4], "format": ".1f", "offset": 10.7, "title": null}}}},
 {"data": {"name": "meta"}, "transform": [{"filter": "datum.p === 'As/Al'"}], "mark": {"type": "point", "shape": "M-92,-21.5H1V4.5H-92Z", "size": 4, "filled": true, "fill": "white", "stroke": "#333", "strokeWidth": 1.5, "opacity": 1, "clip": false}, "encoding": {"x": {"datum": 6.4}, "y": {"datum": 0}}},
 {"data": {"name": "meta"}, "transform": [{"filter": "datum.p === 'As/Al'"}], "mark": {"type": "text", "align": "left", "baseline": "middle", "dx": -89, "dy": -8, "fontSize": 15, "font": "Liberation Sans", "color": "#222"}, "encoding": {"x": {"datum": 6.4}, "y": {"datum": 0}, "text": {"field": "rho"}}},
 {"data": {"name": "meta"}, "transform": [{"filter": "datum.p === 'As/Al'"}], "mark": {"type": "text", "align": "center", "baseline": "alphabetic", "fontSize": 24, "fontWeight": "bold", "font": "Liberation Sans", "color": "#222"}, "encoding": {"x": {"datum": 3.2}, "y": {"datum": 6.4}, "text": {"field": "p"}}}
]},
{"width": 284, "height": 233, "layer": [
 {"data": {"name": "meta"}, "transform": [{"filter": "datum.p === 'As/Ti'"}], "mark": {"type": "rule", "color": "#222", "strokeWidth": 1.2, "clip": false}, "encoding": {"x": {"datum": -2.88, "type": "quantitative"}, "y": {"datum": -2.88, "type": "quantitative"}, "x2": {"datum": 72}, "y2": {"datum": 72}}},
 {"data": {"name": "pts"}, "transform": [{"filter": "datum.p === 'As/Ti'"}], "mark": {"type": "circle", "size": 21, "color": "#222", "opacity": 1, "clip": false}, "encoding": {
   "x": {"field": "x", "type": "quantitative", "scale": {"domain": [0, 72], "nice": false, "zero": false, "range": [0, 266]}, "axis": {"values": [0, 18, 36, 54, 72], "format": "d", "offset": 10.7, "title": null}},
   "y": {"field": "y", "type": "quantitative", "scale": {"domain": [0, 72], "nice": false, "zero": false}, "axis": {"values": [0, 18, 36, 54, 72], "format": "d", "offset": 10.7, "title": null}}}},
 {"data": {"name": "meta"}, "transform": [{"filter": "datum.p === 'As/Ti'"}], "mark": {"type": "point", "shape": "M-92,-21.5H1V4.5H-92Z", "size": 4, "filled": true, "fill": "white", "stroke": "#333", "strokeWidth": 1.5, "opacity": 1, "clip": false}, "encoding": {"x": {"datum": 72}, "y": {"datum": 0}}},
 {"data": {"name": "meta"}, "transform": [{"filter": "datum.p === 'As/Ti'"}], "mark": {"type": "text", "align": "left", "baseline": "middle", "dx": -89, "dy": -8, "fontSize": 15, "font": "Liberation Sans", "color": "#222"}, "encoding": {"x": {"datum": 72}, "y": {"datum": 0}, "text": {"field": "rho"}}},
 {"data": {"name": "meta"}, "transform": [{"filter": "datum.p === 'As/Ti'"}], "mark": {"type": "text", "align": "center", "baseline": "alphabetic", "fontSize": 24, "fontWeight": "bold", "font": "Liberation Sans", "color": "#222"}, "encoding": {"x": {"datum": 36}, "y": {"datum": 72}, "text": {"field": "p"}}}
]},
{"width": 268, "height": 233, "layer": [
 {"data": {"name": "meta"}, "transform": [{"filter": "datum.p === 'Cd/Al'"}], "mark": {"type": "rule", "color": "#222", "strokeWidth": 1.2, "clip": false}, "encoding": {"x": {"datum": -0.00256, "type": "quantitative"}, "y": {"datum": -0.00256, "type": "quantitative"}, "x2": {"datum": 0.064}, "y2": {"datum": 0.064}}},
 {"data": {"name": "pts"}, "transform": [{"filter": "datum.p === 'Cd/Al'"}], "mark": {"type": "circle", "size": 21, "color": "#222", "opacity": 1, "clip": false}, "encoding": {
   "x": {"field": "x", "type": "quantitative", "scale": {"domain": [0, 0.064], "nice": false, "zero": false}, "axis": {"values": [0, 0.016, 0.032, 0.048, 0.064], "format": ".3f", "offset": 10.7, "title": null}},
   "y": {"field": "y", "type": "quantitative", "scale": {"domain": [0, 0.064], "nice": false, "zero": false}, "axis": {"values": [0, 0.016, 0.032, 0.048, 0.064], "format": ".3f", "offset": 10.7, "title": null}}}},
 {"data": {"name": "meta"}, "transform": [{"filter": "datum.p === 'Cd/Al'"}], "mark": {"type": "point", "shape": "M-92,-21.5H1V4.5H-92Z", "size": 4, "filled": true, "fill": "white", "stroke": "#333", "strokeWidth": 1.5, "opacity": 1, "clip": false}, "encoding": {"x": {"datum": 0.064}, "y": {"datum": 0}}},
 {"data": {"name": "meta"}, "transform": [{"filter": "datum.p === 'Cd/Al'"}], "mark": {"type": "text", "align": "left", "baseline": "middle", "dx": -89, "dy": -8, "fontSize": 15, "font": "Liberation Sans", "color": "#222"}, "encoding": {"x": {"datum": 0.064}, "y": {"datum": 0}, "text": {"field": "rho"}}},
 {"data": {"name": "meta"}, "transform": [{"filter": "datum.p === 'Cd/Al'"}], "mark": {"type": "text", "align": "center", "baseline": "alphabetic", "fontSize": 24, "fontWeight": "bold", "font": "Liberation Sans", "color": "#222"}, "encoding": {"x": {"datum": 0.032}, "y": {"datum": 0.064}, "text": {"field": "p"}}}
]},
{"width": 268, "height": 233, "layer": [
 {"data": {"name": "meta"}, "transform": [{"filter": "datum.p === 'Cd/Ti'"}], "mark": {"type": "rule", "color": "#222", "strokeWidth": 1.2, "clip": false}, "encoding": {"x": {"datum": -0.00544, "type": "quantitative"}, "y": {"datum": -0.00544, "type": "quantitative"}, "x2": {"datum": 0.136}, "y2": {"datum": 0.136}}},
 {"data": {"name": "pts"}, "transform": [{"filter": "datum.p === 'Cd/Ti'"}], "mark": {"type": "circle", "size": 21, "color": "#222", "opacity": 1, "clip": false}, "encoding": {
   "x": {"field": "x", "type": "quantitative", "scale": {"domain": [0, 0.136], "nice": false, "zero": false}, "axis": {"values": [0, 0.034, 0.068, 0.102, 0.136], "format": ".3f", "offset": 10.7, "title": null}},
   "y": {"field": "y", "type": "quantitative", "scale": {"domain": [0, 0.136], "nice": false, "zero": false}, "axis": {"values": [0, 0.034, 0.068, 0.102, 0.136], "format": ".3f", "offset": 10.7, "title": null}}}},
 {"data": {"name": "meta"}, "transform": [{"filter": "datum.p === 'Cd/Ti'"}], "mark": {"type": "point", "shape": "M-92,-21.5H1V4.5H-92Z", "size": 4, "filled": true, "fill": "white", "stroke": "#333", "strokeWidth": 1.5, "opacity": 1, "clip": false}, "encoding": {"x": {"datum": 0.136}, "y": {"datum": 0}}},
 {"data": {"name": "meta"}, "transform": [{"filter": "datum.p === 'Cd/Ti'"}], "mark": {"type": "text", "align": "left", "baseline": "middle", "dx": -89, "dy": -8, "fontSize": 15, "font": "Liberation Sans", "color": "#222"}, "encoding": {"x": {"datum": 0.136}, "y": {"datum": 0}, "text": {"field": "rho"}}},
 {"data": {"name": "meta"}, "transform": [{"filter": "datum.p === 'Cd/Ti'"}], "mark": {"type": "text", "align": "center", "baseline": "alphabetic", "fontSize": 24, "fontWeight": "bold", "font": "Liberation Sans", "color": "#222"}, "encoding": {"x": {"datum": 0.068}, "y": {"datum": 0.136}, "text": {"field": "p"}}}
]},
{"width": 267, "height": 233, "layer": [
 {"data": {"name": "meta"}, "transform": [{"filter": "datum.p === 'Hg/Al'"}], "mark": {"type": "rule", "color": "#222", "strokeWidth": 1.2, "clip": false}, "encoding": {"x": {"datum": -0.00144, "type": "quantitative"}, "y": {"datum": -0.00144, "type": "quantitative"}, "x2": {"datum": 0.036}, "y2": {"datum": 0.036}}},
 {"data": {"name": "pts"}, "transform": [{"filter": "datum.p === 'Hg/Al'"}], "mark": {"type": "circle", "size": 21, "color": "#222", "opacity": 1, "clip": false}, "encoding": {
   "x": {"field": "x", "type": "quantitative", "scale": {"domain": [0, 0.036], "nice": false, "zero": false}, "axis": {"values": [0, 0.009, 0.018, 0.027, 0.036], "format": ".3f", "offset": 10.7, "title": null}},
   "y": {"field": "y", "type": "quantitative", "scale": {"domain": [0, 0.036], "nice": false, "zero": false}, "axis": {"values": [0, 0.009, 0.018, 0.027, 0.036], "format": ".3f", "offset": 10.7, "title": null}}}},
 {"data": {"name": "meta"}, "transform": [{"filter": "datum.p === 'Hg/Al'"}], "mark": {"type": "point", "shape": "M-92,-21.5H1V4.5H-92Z", "size": 4, "filled": true, "fill": "white", "stroke": "#333", "strokeWidth": 1.5, "opacity": 1, "clip": false}, "encoding": {"x": {"datum": 0.036}, "y": {"datum": 0}}},
 {"data": {"name": "meta"}, "transform": [{"filter": "datum.p === 'Hg/Al'"}], "mark": {"type": "text", "align": "left", "baseline": "middle", "dx": -89, "dy": -8, "fontSize": 15, "font": "Liberation Sans", "color": "#222"}, "encoding": {"x": {"datum": 0.036}, "y": {"datum": 0}, "text": {"field": "rho"}}},
 {"data": {"name": "meta"}, "transform": [{"filter": "datum.p === 'Hg/Al'"}], "mark": {"type": "text", "align": "center", "baseline": "alphabetic", "fontSize": 24, "fontWeight": "bold", "font": "Liberation Sans", "color": "#222"}, "encoding": {"x": {"datum": 0.018}, "y": {"datum": 0.036}, "text": {"field": "p"}}}
]},
{"width": 284, "height": 233, "layer": [
 {"data": {"name": "meta"}, "transform": [{"filter": "datum.p === 'Hg/Ti'"}], "mark": {"type": "rule", "color": "#222", "strokeWidth": 1.2, "clip": false}, "encoding": {"x": {"datum": -0.0072, "type": "quantitative"}, "y": {"datum": -0.0072, "type": "quantitative"}, "x2": {"datum": 0.18}, "y2": {"datum": 0.18}}},
 {"data": {"name": "pts"}, "transform": [{"filter": "datum.p === 'Hg/Ti'"}], "mark": {"type": "circle", "size": 21, "color": "#222", "opacity": 1, "clip": false}, "encoding": {
   "x": {"field": "x", "type": "quantitative", "scale": {"domain": [0, 0.18], "nice": false, "zero": false, "range": [0, 266]}, "axis": {"values": [0, 0.045, 0.09, 0.135, 0.18], "format": ".3f", "offset": 10.7, "title": null}},
   "y": {"field": "y", "type": "quantitative", "scale": {"domain": [0, 0.18], "nice": false, "zero": false}, "axis": {"values": [0, 0.045, 0.09, 0.135, 0.18], "format": ".3f", "offset": 10.7, "title": null}}}},
 {"data": {"name": "meta"}, "transform": [{"filter": "datum.p === 'Hg/Ti'"}], "mark": {"type": "point", "shape": "M-92,-21.5H1V4.5H-92Z", "size": 4, "filled": true, "fill": "white", "stroke": "#333", "strokeWidth": 1.5, "opacity": 1, "clip": false}, "encoding": {"x": {"datum": 0.18}, "y": {"datum": 0}}},
 {"data": {"name": "meta"}, "transform": [{"filter": "datum.p === 'Hg/Ti'"}], "mark": {"type": "text", "align": "left", "baseline": "middle", "dx": -89, "dy": -8, "fontSize": 15, "font": "Liberation Sans", "color": "#222"}, "encoding": {"x": {"datum": 0.18}, "y": {"datum": 0}, "text": {"field": "rho"}}},
 {"data": {"name": "meta"}, "transform": [{"filter": "datum.p === 'Hg/Ti'"}], "mark": {"type": "text", "align": "center", "baseline": "alphabetic", "fontSize": 24, "fontWeight": "bold", "font": "Liberation Sans", "color": "#222"}, "encoding": {"x": {"datum": 0.09}, "y": {"datum": 0.18}, "text": {"field": "p"}}}
]},
{"width": 268, "height": 233, "layer": [
 {"data": {"name": "meta"}, "transform": [{"filter": "datum.p === 'Pb/Al'"}], "mark": {"type": "rule", "color": "#222", "strokeWidth": 1.2, "clip": false}, "encoding": {"x": {"datum": -0.112, "type": "quantitative"}, "y": {"datum": -0.112, "type": "quantitative"}, "x2": {"datum": 2.8}, "y2": {"datum": 2.8}}},
 {"data": {"name": "pts"}, "transform": [{"filter": "datum.p === 'Pb/Al'"}], "mark": {"type": "circle", "size": 21, "color": "#222", "opacity": 1, "clip": false}, "encoding": {
   "x": {"field": "x", "type": "quantitative", "scale": {"domain": [0, 2.8], "nice": false, "zero": false}, "axis": {"values": [0, 0.7, 1.4, 2.1, 2.8], "format": ".1f", "offset": 10.7, "title": null}},
   "y": {"field": "y", "type": "quantitative", "scale": {"domain": [0, 2.8], "nice": false, "zero": false}, "axis": {"values": [0, 0.7, 1.4, 2.1, 2.8], "format": ".1f", "offset": 10.7, "title": null}}}},
 {"data": {"name": "meta"}, "transform": [{"filter": "datum.p === 'Pb/Al'"}], "mark": {"type": "point", "shape": "M-92,-21.5H1V4.5H-92Z", "size": 4, "filled": true, "fill": "white", "stroke": "#333", "strokeWidth": 1.5, "opacity": 1, "clip": false}, "encoding": {"x": {"datum": 2.8}, "y": {"datum": 0}}},
 {"data": {"name": "meta"}, "transform": [{"filter": "datum.p === 'Pb/Al'"}], "mark": {"type": "text", "align": "left", "baseline": "middle", "dx": -89, "dy": -8, "fontSize": 15, "font": "Liberation Sans", "color": "#222"}, "encoding": {"x": {"datum": 2.8}, "y": {"datum": 0}, "text": {"field": "rho"}}},
 {"data": {"name": "meta"}, "transform": [{"filter": "datum.p === 'Pb/Al'"}], "mark": {"type": "text", "align": "center", "baseline": "alphabetic", "fontSize": 24, "fontWeight": "bold", "font": "Liberation Sans", "color": "#222"}, "encoding": {"x": {"datum": 1.4}, "y": {"datum": 2.8}, "text": {"field": "p"}}}
]},
{"width": 268, "height": 233, "layer": [
 {"data": {"name": "meta"}, "transform": [{"filter": "datum.p === 'Pb/Ti'"}], "mark": {"type": "rule", "color": "#222", "strokeWidth": 1.2, "clip": false}, "encoding": {"x": {"datum": -2.4, "type": "quantitative"}, "y": {"datum": -2.4, "type": "quantitative"}, "x2": {"datum": 60}, "y2": {"datum": 60}}},
 {"data": {"name": "pts"}, "transform": [{"filter": "datum.p === 'Pb/Ti'"}], "mark": {"type": "circle", "size": 21, "color": "#222", "opacity": 1, "clip": false}, "encoding": {
   "x": {"field": "x", "type": "quantitative", "scale": {"domain": [0, 60], "nice": false, "zero": false}, "axis": {"values": [0, 15, 30, 45, 60], "format": "d", "offset": 10.7, "title": null}},
   "y": {"field": "y", "type": "quantitative", "scale": {"domain": [0, 60], "nice": false, "zero": false}, "axis": {"values": [0, 15, 30, 45, 60], "format": "d", "offset": 10.7, "title": null}}}},
 {"data": {"name": "meta"}, "transform": [{"filter": "datum.p === 'Pb/Ti'"}], "mark": {"type": "point", "shape": "M-92,-21.5H1V4.5H-92Z", "size": 4, "filled": true, "fill": "white", "stroke": "#333", "strokeWidth": 1.5, "opacity": 1, "clip": false}, "encoding": {"x": {"datum": 60}, "y": {"datum": 0}}},
 {"data": {"name": "meta"}, "transform": [{"filter": "datum.p === 'Pb/Ti'"}], "mark": {"type": "text", "align": "left", "baseline": "middle", "dx": -89, "dy": -8, "fontSize": 15, "font": "Liberation Sans", "color": "#222"}, "encoding": {"x": {"datum": 60}, "y": {"datum": 0}, "text": {"field": "rho"}}},
 {"data": {"name": "meta"}, "transform": [{"filter": "datum.p === 'Pb/Ti'"}], "mark": {"type": "text", "align": "center", "baseline": "alphabetic", "fontSize": 24, "fontWeight": "bold", "font": "Liberation Sans", "color": "#222"}, "encoding": {"x": {"datum": 30}, "y": {"datum": 60}, "text": {"field": "p"}}}
]}
]
}
],
"config": {
"view": {"stroke": null},
"axis": {"domainColor": "#333", "domainWidth": 1.8, "tickColor": "#333", "tickWidth": 1.8, "tickSize": 7, "labelFont": "Liberation Sans", "labelFontSize": 13.5, "labelColor": "#222", "labelPadding": 2, "grid": false, "labelOverlap": false, "labelFlush": false},
"axisY": {"labelAngle": 270, "labelAlign": "left", "labelBaseline": "bottom", "labelPadding": 3, "labelFont": "Liberation Sans Narrow, Liberation Sans", "labelFontSize": 11}
}
}
